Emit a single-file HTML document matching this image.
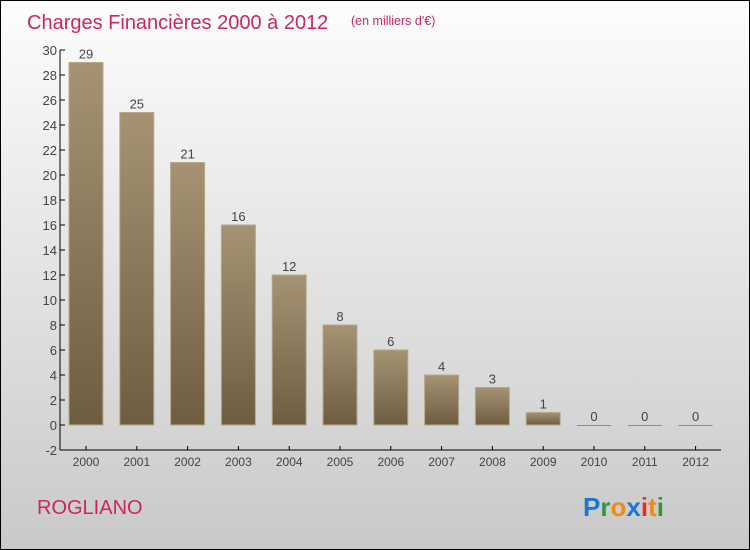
<!DOCTYPE html>
<html><head><meta charset="utf-8"><style>
body{margin:0;}
#c{width:748px;height:548px;border:1px solid #000;position:relative;background:linear-gradient(#fdfdfd,#c9c9c9);font-family:"Liberation Sans",sans-serif;overflow:hidden}
</style></head><body>
<div id="c">
<svg width="748" height="548" id="s">
<defs><linearGradient id="g" x1="0" y1="0" x2="0" y2="1"><stop offset="0" stop-color="#a59374"/><stop offset="1" stop-color="#6e5d40"/></linearGradient></defs>
<text x="26" y="28" font-size="20" fill="#c8285a">Charges Financières 2000 à 2012</text>
<text x="350" y="24" font-size="12.5" fill="#c8285a">(en milliers d'€)</text>
<text x="36" y="513" font-size="20" fill="#c8285a">ROGLIANO</text>
<text x="582" y="515" font-size="26" font-weight="bold"><tspan fill="#1a78d0">P</tspan><tspan fill="#2a9a3a">r</tspan><tspan fill="#f08a10">o</tspan><tspan fill="#1a78d0">x</tspan><tspan fill="#e83020">i</tspan><tspan fill="#f08a10">t</tspan><tspan fill="#2a9a3a">i</tspan></text>
<g id="ax"></g><g id="bars"></g>
</svg></div>
<script>
const years=["2000","2001","2002","2003","2004","2005","2006","2007","2008","2009","2010","2011","2012"];
const values=[29,25,21,16,12,8,6,4,3,1,0,0,0];
const ticks=[-2,0,2,4,6,8,10,12,14,16,18,20,22,24,26,28,30];
const NS="http://www.w3.org/2000/svg";
const y=v=>424-v*12.5, x=i=>85+i*50.8;
function mk(t,a,p){const e=document.createElementNS(NS,t);for(const k in a)e.setAttribute(k,a[k]);p.appendChild(e);return e;}
const ax=document.getElementById('ax'),bars=document.getElementById('bars');
const yl=mk('line',{x1:59,x2:59,y1:y(30),y2:y(-2),stroke:'#000'},ax);


const xl=mk('line',{x1:59,x2:720,y1:y(-2),y2:y(-2),stroke:'#000'},ax);


ticks.forEach(t=>{mk('line',{x1:59,x2:64,y1:y(t),y2:y(t),stroke:'#000'},ax);
const tx=mk('text',{x:56,y:y(t)+5,'font-size':13,'text-anchor':'end',fill:'#444'},ax);tx.textContent=t;

});
years.forEach((yr,i)=>{const v=values[i],cx=x(i);
mk('line',{x1:cx,x2:cx,y1:y(-2)-4,y2:y(-2),stroke:'#000'},ax);
const tl=mk('text',{x:cx,y:y(-2)+16,'font-size':12,'text-anchor':'middle',fill:'#444'},ax);tl.textContent=yr;


const h=Math.max(v*12.5,1);
const r=mk('rect',{x:cx-17,y:y(v),width:34,height:h,fill:v>0?'url(#g)':'#9a8a6e',stroke:v>0?'#b8a888':'none','stroke-width':1},bars);


const lb=mk('text',{x:cx,y:y(v)-4,'font-size':13,'text-anchor':'middle',fill:'#444'},bars);lb.textContent=v;

});
</script>
</body></html>
